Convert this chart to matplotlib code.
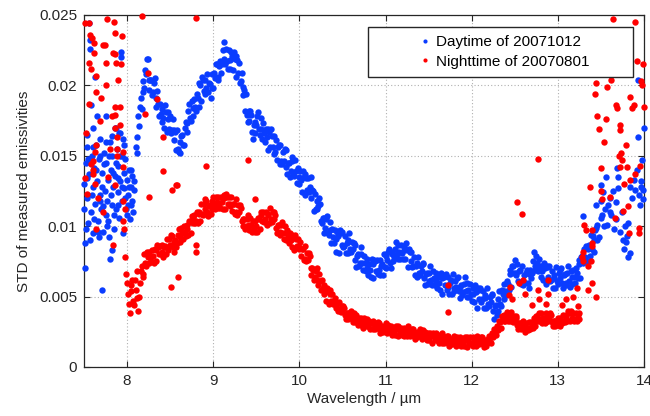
"""
STD of measured emissivities vs wavelength, day (20071012) vs night (20070801).
Values read off the reference figure: wavelengths in 0.01 um, STD in 1e-4.
"""

import matplotlib
matplotlib.use("Agg")
import matplotlib.pyplot as plt
import numpy as np

plt.rcParams["font.family"] = ["Liberation Sans", "DejaVu Sans"]

# ---- daytime (blue) ----
DAY_LEFT_WL = [
    750, 751, 751, 752, 753, 754, 755, 756, 756, 757, 757, 758, 759, 760, 760, 761, 762, 763, 763, 764,
    765, 765, 766, 767, 768, 769, 770, 771, 771, 772, 773, 774, 775, 776, 776, 777, 778, 779, 780, 780,
    781, 782, 782, 783, 784, 785, 786, 786, 787, 787, 788, 789, 790, 791, 791, 792, 792, 793, 793, 794,
    794, 795, 796, 797, 798, 799, 800, 801, 802, 803, 804, 805, 806, 807, 808,
    750, 752, 754, 755, 757, 759, 761, 762, 764, 766, 768, 769, 771, 773, 775, 777, 779, 781, 783, 785,
    787, 789, 790, 792, 794, 796, 798, 800, 802, 804, 806, 808, 753, 758, 767, 772, 778, 784, 795, 801,
]
DAY_LEFT_STD = [
    130, 88, 70, 145, 120, 156, 102, 244, 137, 232, 226, 110, 150, 128, 170, 95, 141, 116, 206, 158,
    178, 132, 104, 148, 122, 162, 112, 55, 138, 96, 152, 125, 108, 178, 145, 118, 133, 92, 77, 160,
    140, 83, 115, 150, 128, 98, 170, 136, 112, 170, 155, 124, 143, 166, 106, 132, 166, 224, 220, 150,
    118, 162, 138, 127, 148, 112, 133, 122, 140, 105, 128, 115, 136, 110, 126,
    112, 98, 134, 148, 90, 122, 156, 105, 140, 96, 150, 118, 128, 144, 160, 100, 150, 122, 164, 108,
    145, 134, 115, 150, 128, 158, 120, 108, 128, 140, 118, 132, 165, 186, 92, 114, 104, 138, 95, 115,
]

DAY_MAIN_WL = [
    810, 812, 814, 816, 818, 820, 822, 824, 826, 828, 830, 832, 834, 836, 838, 840, 842, 844, 846, 848,
    850, 852, 854, 856, 858, 860, 862, 864, 866, 868, 870, 872, 874, 876, 878, 880, 882, 884, 886, 888,
    890, 892, 894, 896, 898, 900, 902, 904, 906, 908, 910, 912, 914, 916, 918, 920, 922, 924, 926, 928,
    930, 932, 934, 936, 938, 940, 942, 944, 946, 948, 950, 952, 954, 956, 958, 960, 962, 964, 966, 968,
    970, 972, 974, 976, 978, 980, 982, 984, 986, 988, 990, 992, 994, 996, 998, 1000, 1002, 1004, 1006, 1008,
    1010, 1012, 1014, 1016, 1018, 1020, 1022, 1024, 1026, 1028, 1030, 1032, 1034, 1036, 1038, 1040, 1042, 1044, 1046, 1048,
    1050, 1052, 1054, 1056, 1058, 1060, 1062, 1064, 1066, 1068, 1070, 1072, 1074, 1076, 1078, 1080, 1082, 1084, 1086, 1088,
    1090, 1092, 1094, 1096, 1098, 1100, 1102, 1104, 1106, 1108, 1110, 1112, 1114, 1116, 1118, 1120, 1122, 1124, 1126, 1128,
    1130, 1132, 1134, 1136, 1138, 1140, 1142, 1144, 1146, 1148, 1150, 1152, 1154, 1156, 1158, 1160, 1162, 1164, 1166, 1168,
    1170, 1172, 1174, 1176, 1178, 1180, 1182, 1184, 1186, 1188, 1190, 1192, 1194, 1196, 1198, 1200, 1202, 1204, 1206, 1208,
    1210, 1212, 1214, 1216, 1218, 1220, 1222, 1224, 1226, 1228, 1230, 1232, 1234, 1236, 1238, 1240, 1242, 1244, 1246, 1248,
    1250, 1252, 1254, 1256, 1258, 1260, 1262, 1264, 1266, 1268, 1270, 1272, 1274, 1276, 1278, 1280, 1282, 1284, 1286, 1288,
    1290, 1292, 1294, 1296, 1298, 1300, 1302, 1304, 1306, 1308, 1310, 1312, 1314, 1316, 1318, 1320, 1322, 1324, 1326, 1328,
    1330, 1332, 1334, 1336, 1338, 1340, 1342, 1344,
]
DAY_MAIN_STD = [
    156, 163, 171, 191, 203, 198, 208, 219, 197, 204, 195, 205, 185, 187, 187, 174, 177, 186, 167, 176,
    178, 168, 161, 167, 168, 153, 152, 165, 158, 174, 173, 187, 175, 184, 190, 182, 191, 202, 189, 204,
    204, 198, 195, 201, 208, 198, 205, 215, 204, 217, 215, 231, 215, 217, 225, 212, 221, 224, 206, 218,
    216, 203, 193, 197, 194, 174, 175, 179, 162, 174, 172, 181, 165, 169, 173, 160, 163, 169, 156, 164,
    164, 153, 147, 158, 158, 144, 146, 154, 137, 145, 139, 149, 136, 139, 141, 130, 133, 139, 122, 134,
    134, 128, 120, 125, 123, 112, 114, 116, 102, 106, 99, 107, 94, 97, 98, 88, 91, 96, 81, 95,
    96, 86, 81, 90, 95, 82, 84, 87, 71, 80, 74, 85, 69, 74, 77, 65, 69, 77, 63, 75,
    76, 69, 65, 73, 80, 70, 76, 84, 70, 82, 78, 89, 77, 82, 87, 77, 83, 88, 71, 82,
    82, 72, 65, 74, 78, 65, 68, 74, 58, 67, 61, 72, 58, 63, 67, 56, 60, 67, 52, 64,
    66, 57, 52, 62, 66, 54, 57, 64, 49, 58, 53, 64, 50, 55, 59, 47, 52, 58, 42, 55,
    56, 48, 42, 51, 56, 43, 46, 52, 34, 44, 40, 54, 43, 52, 59, 51, 59, 69, 57, 72,
    76, 67, 61, 69, 72, 58, 60, 69, 56, 69, 67, 82, 69, 74, 77, 64, 68, 74, 59, 71,
    72, 62, 56, 65, 71, 59, 63, 70, 56, 66, 60, 72, 57, 64, 69, 60, 67, 76, 63, 79,
    84, 78, 75, 87, 94, 84, 90, 99,
]

# the in-between channels of the same band
DAY_MAIN2_WL = [
    811, 813, 815, 817, 819, 821, 823, 825, 827, 829, 831, 833, 835, 837, 839, 841, 843, 845, 847, 849,
    851, 853, 855, 857, 859, 861, 863, 865, 867, 869, 871, 873, 875, 877, 879, 881, 883, 885, 887, 889,
    891, 893, 895, 897, 899, 901, 903, 905, 907, 909, 911, 913, 915, 917, 919, 921, 923, 925, 927, 929,
    931, 933, 935, 937, 939, 941, 943, 945, 947, 949, 951, 953, 955, 957, 959, 961, 963, 965, 967, 969,
    971, 973, 975, 977, 979, 981, 983, 985, 987, 989, 991, 993, 995, 997, 999, 1001, 1003, 1005, 1007, 1009,
    1011, 1013, 1015, 1017, 1019, 1021, 1023, 1025, 1027, 1029, 1031, 1033, 1035, 1037, 1039, 1041, 1043, 1045, 1047, 1049,
    1051, 1053, 1055, 1057, 1059, 1061, 1063, 1065, 1067, 1069, 1071, 1073, 1075, 1077, 1079, 1081, 1083, 1085, 1087, 1089,
    1091, 1093, 1095, 1097, 1099, 1101, 1103, 1105, 1107, 1109, 1111, 1113, 1115, 1117, 1119, 1121, 1123, 1125, 1127, 1129,
    1131, 1133, 1135, 1137, 1139, 1141, 1143, 1145, 1147, 1149, 1151, 1153, 1155, 1157, 1159, 1161, 1163, 1165, 1167, 1169,
    1171, 1173, 1175, 1177, 1179, 1181, 1183, 1185, 1187, 1189, 1191, 1193, 1195, 1197, 1199, 1201, 1203, 1205, 1207, 1209,
    1211, 1213, 1215, 1217, 1219, 1221, 1223, 1225, 1227, 1229, 1231, 1233, 1235, 1237, 1239, 1241, 1243, 1245, 1247, 1249,
    1251, 1253, 1255, 1257, 1259, 1261, 1263, 1265, 1267, 1269, 1271, 1273, 1275, 1277, 1279, 1281, 1283, 1285, 1287, 1289,
    1291, 1293, 1295, 1297, 1299, 1301, 1303, 1305, 1307, 1309, 1311, 1313, 1315, 1317, 1319, 1321, 1323, 1325, 1327, 1329,
    1331, 1333, 1335, 1337, 1339, 1341, 1343, 1345,
]
DAY_MAIN2_STD = [
    152, 178, 185, 183, 195, 211, 219, 204, 204, 193, 202, 191, 196, 178, 180, 183, 170, 181, 181, 169,
    166, 176, 168, 154, 155, 160, 164, 158, 170, 167, 182, 177, 189, 178, 185, 194, 185, 200, 206, 196,
    194, 208, 202, 191, 198, 209, 215, 206, 214, 209, 225, 219, 226, 212, 218, 224, 211, 219, 221, 209,
    202, 209, 199, 182, 179, 182, 182, 167, 172, 166, 178, 169, 177, 162, 166, 169, 154, 167, 169, 156,
    151, 161, 156, 144, 146, 153, 155, 142, 145, 135, 146, 138, 147, 131, 135, 139, 124, 135, 137, 126,
    124, 135, 126, 111, 112, 118, 120, 104, 106, 95, 105, 95, 103, 88, 92, 97, 82, 93, 97, 87,
    85, 93, 88, 81, 84, 89, 88, 76, 79, 72, 80, 74, 79, 68, 70, 73, 64, 73, 76, 68,
    66, 76, 72, 65, 71, 79, 82, 74, 80, 75, 84, 80, 87, 77, 81, 86, 77, 83, 84, 75,
    71, 78, 72, 64, 67, 72, 73, 63, 66, 59, 67, 62, 68, 58, 61, 64, 55, 63, 65, 58,
    55, 64, 60, 52, 56, 61, 63, 54, 57, 51, 59, 54, 60, 50, 52, 56, 46, 53, 56, 48,
    46, 54, 49, 42, 45, 50, 51, 40, 43, 37, 48, 45, 55, 48, 54, 61, 55, 66, 72, 67,
    65, 73, 68, 59, 61, 65, 67, 60, 66, 63, 75, 72, 79, 68, 70, 72, 62, 70, 72, 64,
    61, 68, 63, 56, 61, 67, 69, 60, 65, 58, 67, 61, 68, 59, 64, 70, 63, 73, 78, 74,
    75, 86, 84, 79, 85, 93, 97, 90,
]

DAY_RIGHT_WL = [
    1346, 1348, 1350, 1350, 1350, 1352, 1353, 1355, 1356, 1358, 1360, 1362, 1364, 1365, 1367, 1368, 1369, 1370, 1370, 1372,
    1374, 1376, 1377, 1378, 1380, 1382, 1384, 1386, 1388, 1390, 1392, 1393, 1393, 1394, 1395, 1396, 1397, 1398, 1399, 1400,
    1344, 1351, 1357, 1360, 1379, 1381, 1384, 1342, 1329, 1399,
]
DAY_RIGHT_STD = [
    101, 92, 118, 106, 129, 124, 100, 112, 135, 115, 120, 108, 125, 98, 117, 105, 141, 135, 127, 96,
    110, 90, 84, 100, 93, 102, 128, 120, 133, 126, 140, 204, 163, 122, 115, 132, 128, 147, 126, 170,
    115, 108, 101, 110, 89, 78, 81, 82, 107, 119,
]

# ---- nighttime (red) ----
NIGHT_LEFT_WL = [
    751, 756, 757, 759, 762, 762, 764, 764, 756, 770, 772, 774, 777, 775, 785, 786, 794, 784, 786, 787,
    793, 790, 756, 786, 792, 786, 782, 792, 786, 752, 764, 788, 788, 763, 761, 758, 761, 788, 795, 795,
    751, 763, 753, 786, 795, 795, 764, 784, 760, 766, 772, 778, 780, 768, 798, 797, 776, 758,
]
NIGHT_LEFT_STD = [
    244, 244, 236, 234, 230, 223, 207, 195, 216, 191, 229, 229, 247, 216, 245, 237, 235, 223, 222, 216,
    215, 204, 187, 185, 185, 179, 178, 172, 170, 166, 158, 163, 155, 153, 146, 144, 137, 150, 153, 142,
    134, 130, 123, 129, 118, 104, 98, 87, 140, 120, 110, 135, 155, 175, 112, 98, 200, 212,
]

NIGHT_MAIN_WL = [
    798, 800, 802, 804, 806, 808, 810, 812, 814, 816, 818, 820, 822, 824, 826, 828, 830, 832, 834, 836,
    838, 840, 842, 844, 846, 848, 850, 852, 854, 856, 858, 860, 862, 864, 866, 868, 870, 872, 874, 876,
    878, 880, 882, 884, 886, 888, 890, 892, 894, 896, 898, 900, 902, 904, 906, 908, 910, 912, 914, 916,
    918, 920, 922, 924, 926, 928, 930, 932, 934, 936, 938, 940, 942, 944, 946, 948, 950, 952, 954, 956,
    958, 960, 962, 964, 966, 968, 970, 972, 974, 976, 978, 980, 982, 984, 986, 988, 990, 992, 994, 996,
    998, 1000, 1002, 1004, 1006, 1008, 1010, 1012, 1014, 1016, 1018, 1020, 1022, 1024, 1026, 1028, 1030, 1032, 1034, 1036,
    1038, 1040, 1042, 1044, 1046, 1048, 1050, 1052, 1054, 1056, 1058, 1060, 1062, 1064, 1066, 1068, 1070, 1072, 1074, 1076,
    1078, 1080, 1082, 1084, 1086, 1088, 1090, 1092, 1094, 1096, 1098, 1100, 1102, 1104, 1106, 1108, 1110, 1112, 1114, 1116,
    1118, 1120, 1122, 1124, 1126, 1128, 1130, 1132, 1134, 1136, 1138, 1140, 1142, 1144, 1146, 1148, 1150, 1152, 1154, 1156,
    1158, 1160, 1162, 1164, 1166, 1168, 1170, 1172, 1174, 1176, 1178, 1180, 1182, 1184, 1186, 1188, 1190, 1192, 1194, 1196,
    1198, 1200, 1202, 1204, 1206, 1208, 1210, 1212, 1214, 1216, 1218, 1220, 1222, 1224, 1226, 1228, 1230, 1232, 1234, 1236,
    1238, 1240, 1242, 1244, 1246, 1248, 1250, 1252, 1254, 1256, 1258, 1260, 1262, 1264, 1266, 1268, 1270, 1272, 1274, 1276,
    1278, 1280, 1282, 1284, 1286, 1288, 1290, 1292, 1294, 1296, 1298, 1300, 1302, 1304, 1306, 1308, 1310, 1312, 1314, 1316,
    1318, 1320, 1322, 1324,
]
NIGHT_MAIN_STD = [
    78, 60, 45, 54, 62, 44, 55, 68, 50, 68, 66, 80, 72, 78, 82, 75, 79, 84, 75, 85,
    86, 82, 78, 86, 91, 83, 87, 93, 82, 90, 88, 98, 89, 95, 100, 93, 98, 104, 95, 106,
    108, 104, 102, 110, 116, 108, 112, 118, 107, 115, 112, 121, 112, 117, 121, 113, 117, 122, 112, 121,
    121, 116, 111, 116, 119, 108, 110, 113, 100, 105, 100, 108, 97, 101, 104, 96, 100, 106, 98, 108,
    110, 105, 101, 109, 113, 103, 105, 108, 95, 101, 96, 103, 91, 95, 97, 88, 90, 94, 83, 91,
    91, 85, 79, 84, 86, 75, 76, 79, 65, 69, 64, 70, 58, 61, 62, 52, 53, 56, 45, 52,
    52, 45, 42, 45, 46, 39, 40, 42, 34, 38, 35, 40, 32, 34, 37, 30, 32, 35, 28, 33,
    34, 29, 27, 31, 33, 27, 29, 31, 24, 29, 26, 31, 24, 27, 29, 23, 25, 29, 22, 27,
    28, 24, 22, 26, 29, 22, 24, 27, 20, 25, 22, 27, 20, 23, 25, 19, 21, 24, 17, 23,
    24, 19, 17, 21, 24, 17, 19, 22, 15, 20, 17, 22, 15, 18, 21, 15, 17, 21, 14, 20,
    21, 17, 15, 19, 22, 16, 18, 21, 14, 19, 17, 22, 17, 22, 27, 23, 27, 33, 28, 35,
    37, 34, 33, 37, 39, 32, 33, 35, 27, 31, 28, 33, 25, 28, 32, 27, 30, 35, 29, 36,
    38, 34, 31, 35, 38, 33, 35, 37, 29, 33, 30, 35, 29, 33, 37, 32, 35, 40, 33, 38,
    38, 34, 33, 38,
]

NIGHT_MAIN2_WL = [
    799, 801, 803, 805, 807, 809, 811, 813, 815, 817, 819, 821, 823, 825, 827, 829, 831, 833, 835, 837,
    839, 841, 843, 845, 847, 849, 851, 853, 855, 857, 859, 861, 863, 865, 867, 869, 871, 873, 875, 877,
    879, 881, 883, 885, 887, 889, 891, 893, 895, 897, 899, 901, 903, 905, 907, 909, 911, 913, 915, 917,
    919, 921, 923, 925, 927, 929, 931, 933, 935, 937, 939, 941, 943, 945, 947, 949, 951, 953, 955, 957,
    959, 961, 963, 965, 967, 969, 971, 973, 975, 977, 979, 981, 983, 985, 987, 989, 991, 993, 995, 997,
    999, 1001, 1003, 1005, 1007, 1009, 1011, 1013, 1015, 1017, 1019, 1021, 1023, 1025, 1027, 1029, 1031, 1033, 1035, 1037,
    1039, 1041, 1043, 1045, 1047, 1049, 1051, 1053, 1055, 1057, 1059, 1061, 1063, 1065, 1067, 1069, 1071, 1073, 1075, 1077,
    1079, 1081, 1083, 1085, 1087, 1089, 1091, 1093, 1095, 1097, 1099, 1101, 1103, 1105, 1107, 1109, 1111, 1113, 1115, 1117,
    1119, 1121, 1123, 1125, 1127, 1129, 1131, 1133, 1135, 1137, 1139, 1141, 1143, 1145, 1147, 1149, 1151, 1153, 1155, 1157,
    1159, 1161, 1163, 1165, 1167, 1169, 1171, 1173, 1175, 1177, 1179, 1181, 1183, 1185, 1187, 1189, 1191, 1193, 1195, 1197,
    1199, 1201, 1203, 1205, 1207, 1209, 1211, 1213, 1215, 1217, 1219, 1221, 1223, 1225, 1227, 1229, 1231, 1233, 1235, 1237,
    1239, 1241, 1243, 1245, 1247, 1249, 1251, 1253, 1255, 1257, 1259, 1261, 1263, 1265, 1267, 1269, 1271, 1273, 1275, 1277,
    1279, 1281, 1283, 1285, 1287, 1289, 1291, 1293, 1295, 1297, 1299, 1301, 1303, 1305, 1307, 1309, 1311, 1313, 1315, 1317,
    1319, 1321, 1323, 1325,
]
NIGHT_MAIN2_STD = [
    66, 52, 38, 58, 47, 62, 49, 40, 60, 72, 64, 74, 82, 74, 78, 83, 74, 83, 87, 80,
    80, 87, 85, 80, 84, 91, 94, 85, 89, 85, 94, 92, 99, 91, 96, 101, 94, 103, 107, 102,
    102, 110, 109, 104, 109, 116, 119, 110, 114, 109, 118, 115, 121, 113, 116, 121, 112, 120, 123, 116,
    114, 121, 116, 109, 110, 115, 115, 104, 105, 98, 105, 101, 106, 96, 99, 104, 96, 105, 110, 104,
    103, 110, 108, 102, 105, 110, 110, 99, 101, 94, 101, 95, 100, 90, 92, 95, 85, 92, 94, 86,
    84, 89, 84, 76, 77, 81, 81, 70, 70, 62, 68, 62, 66, 55, 56, 58, 47, 54, 55, 47,
    45, 49, 46, 40, 41, 43, 43, 37, 38, 34, 38, 35, 38, 32, 33, 35, 30, 33, 35, 30,
    29, 33, 31, 27, 28, 31, 32, 26, 28, 25, 29, 26, 30, 25, 25, 28, 23, 27, 29, 24,
    23, 28, 26, 22, 24, 26, 27, 22, 24, 21, 25, 22, 26, 21, 21, 24, 19, 22, 24, 20,
    19, 23, 21, 17, 19, 21, 22, 17, 19, 16, 20, 17, 21, 16, 17, 20, 15, 19, 21, 17,
    16, 21, 19, 15, 17, 20, 21, 16, 18, 15, 20, 18, 24, 21, 24, 29, 26, 32, 36, 33,
    33, 39, 37, 33, 34, 36, 36, 30, 31, 27, 31, 28, 31, 26, 28, 32, 28, 33, 36, 33,
    33, 38, 35, 31, 33, 37, 38, 32, 33, 29, 33, 30, 35, 31, 33, 37, 33, 38, 40, 35,
    33, 38, 37, 34,
]

NIGHT_SCATTER_WL = [
    817, 880, 824, 821, 835, 842, 842, 858, 852, 826, 857, 892, 948, 940, 851, 859, 880, 880, 1173, 1173,
    1253, 1258, 1277, 1243, 1245, 1247, 1255, 1259, 1262, 1270, 1277, 1278, 1286, 1288, 1288, 1305, 1310, 1318, 1322, 1323,
    1328, 1329, 1329, 1335, 1338, 1340, 1340, 1335, 1340, 1344, 1330, 1333, 1337, 1340, 1350, 1351,
]
NIGHT_SCATTER_STD = [
    249, 248, 209, 180, 190, 163, 139, 129, 126, 121, 129, 143, 119, 147, 57, 64, 82, 87, 39, 58,
    117, 109, 148, 51, 57, 48, 60, 62, 52, 44, 55, 48, 45, 62, 52, 44, 48, 50, 56, 43,
    78, 82, 75, 72, 75, 86, 88, 55, 60, 50, 101, 97, 128, 97, 125, 119,
]

NIGHT_RIGHT_WL = [
    1344, 1343, 1357, 1362, 1345, 1348, 1353, 1369, 1368, 1372, 1372, 1384, 1386, 1388, 1397, 1398, 1400, 1392, 1390, 1364,
    1371, 1373, 1375, 1372, 1380, 1395, 1350, 1377, 1384, 1390, 1381, 1376, 1360, 1366, 1383, 1394, 1394, 1399, 1356, 1379,
]
NIGHT_RIGHT_STD = [
    202, 194, 199, 204, 178, 169, 160, 184, 186, 172, 168, 192, 184, 186, 203, 200, 185, 217, 245, 247,
    150, 152, 147, 142, 142, 143, 141, 130, 133, 137, 114, 111, 121, 106, 95, 99, 95, 215, 176, 158,
]

X_TICKS = [8, 9, 10, 11, 12, 13, 14]
Y_TICKS = [0, 0.005, 0.01, 0.015, 0.02, 0.025]
Y_TICK_LABELS = ["0", "0.005", "0.01", "0.015", "0.02", "0.025"]

DAY_COLOR = "#0a3cff"
NIGHT_COLOR = "#ff0000"


def to_units(wl_list, std_list):
    wl = np.array(wl_list, dtype=float) / 100.0
    std = np.array(std_list, dtype=float) * 1e-4
    return wl, std


day_wl, day_std = to_units(DAY_LEFT_WL + DAY_MAIN_WL + DAY_MAIN2_WL + DAY_RIGHT_WL,
                           DAY_LEFT_STD + DAY_MAIN_STD + DAY_MAIN2_STD + DAY_RIGHT_STD)
night_wl, night_std = to_units(
    NIGHT_LEFT_WL + NIGHT_MAIN_WL + NIGHT_MAIN2_WL + NIGHT_SCATTER_WL + NIGHT_RIGHT_WL,
    NIGHT_LEFT_STD + NIGHT_MAIN_STD + NIGHT_MAIN2_STD + NIGHT_SCATTER_STD + NIGHT_RIGHT_STD)

fig = plt.figure(figsize=(6.5, 4.16), dpi=100)
ax = fig.add_axes([84 / 650, 1 - 367 / 416, 560 / 650, 352 / 416])

ax.plot(day_wl, day_std, "o", ms=4.6, mec="none", color=DAY_COLOR,
        label="Daytime of 20071012", clip_on=False, zorder=3)
ax.plot(night_wl, night_std, "o", ms=4.6, mec="none", color=NIGHT_COLOR,
        label="Nighttime of 20070801", clip_on=False, zorder=3)

ax.set_xlim(7.5, 14)
ax.set_ylim(0, 0.025)
ax.set_xticks(X_TICKS)
ax.set_yticks(Y_TICKS)
ax.set_yticklabels(Y_TICK_LABELS)
ax.tick_params(direction="in", top=True, right=True, length=4, width=0.8,
               labelsize=11, colors="#262626", pad=5)
ax.grid(True, linestyle=(0, (1, 2)), color="#b0b0b0", linewidth=0.8)
ax.set_axisbelow(True)
for sp in ax.spines.values():
    sp.set_color("#262626")
    sp.set_linewidth(0.9)

ax.set_xlabel("Wavelength / µm", fontsize=11, color="#262626", labelpad=3)
ax.set_ylabel("STD of measured emissivities", fontsize=11, color="#262626", labelpad=6)

leg = ax.legend(loc="upper left", bbox_to_anchor=(0.507, 0.824, 0.473, 0.142),
                mode="expand", fontsize=11, frameon=True, fancybox=False,
                framealpha=1, edgecolor="#262626", borderpad=0.52, labelspacing=0.38,
                handlelength=6.45, handletextpad=-2.53, markerscale=0.65, borderaxespad=0)
leg.get_frame().set_linewidth(1.0)
leg.set_zorder(5)

fig.savefig("out.png", dpi=100)
